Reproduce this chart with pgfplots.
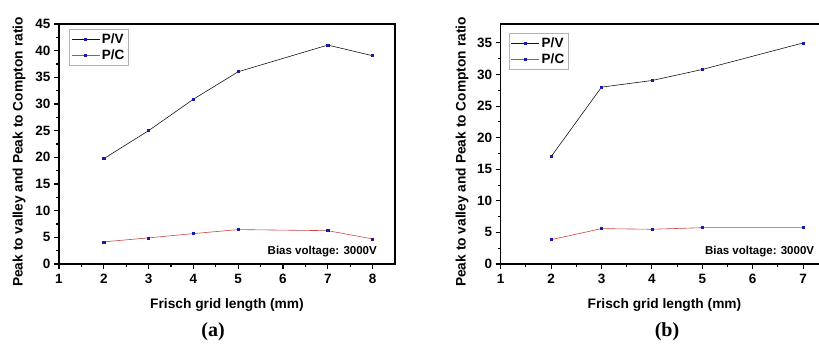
\documentclass[border=0pt]{standalone}
\usepackage{fontspec}
\setmainfont{Liberation Sans}
\newfontfamily\serifb{Liberation Serif}
\usepackage{pgfplots}
\pgfplotsset{compat=1.18}
\definecolor{pvline}{RGB}{20,20,20}
\definecolor{pcline}{RGB}{200,70,70}
\definecolor{mk}{RGB}{25,25,170}
\pgfplotsset{
  myax/.style={
    scale only axis,
    anchor=south west,
    axis line style={line width=1.3pt},
    tick align=outside,
    xtick pos=bottom, ytick pos=left,
    minor x tick num=1, minor y tick num=1,
    major tick length=5pt, minor tick length=3pt,
    every tick/.style={line width=1.1pt, black},
    /pgf/number format/assume math mode=true,
    tick label style={font=\bfseries\fontsize{13.5}{13.5}\selectfont},
    xticklabel style={yshift=-2pt},
    ylabel={Peak to valley and Peak to Compton ratio},
    xlabel={Frisch grid length (mm)},
    legend style={font=\bfseries\fontsize{13.5}{13.5}\selectfont, draw=gray!60, line width=0.5pt, anchor=north west, inner sep=2pt, row sep=1pt},
    legend cell align=left,
    legend image code/.code={\draw[mark repeat=2,mark phase=2] plot coordinates {(0pt,0pt) (14pt,0pt) (28pt,0pt)};},
    pv/.style={color=pvline, line width=0.6pt, mark=square*, mark size=1.05pt, mark options={mk, solid}},
    pc/.style={color=pcline, line width=0.6pt, mark=square*, mark size=1.05pt, mark options={mk, solid}},
  }
}
\begin{document}
\begin{tikzpicture}
\useasboundingbox (0,0) rectangle (819pt,345pt);
\clip (0,0) rectangle (819pt,345pt);
% (a)
\begin{axis}[myax, at={(59pt,81pt)}, width=336pt, height=240pt,
  xmin=1, xmax=8.5, ymin=0, ymax=45,
  xtick={1,2,3,4,5,6,7,8}, ytick={0,5,...,45},
  legend style={at={(axis description cs:0.03,0.979)}},
  every axis y label/.style={at={([xshift=-40pt,yshift=-8pt]axis description cs:0,0.5)}, rotate=90, anchor=center, font=\bfseries\fontsize{13.75}{14}\selectfont},
  every axis x label/.style={at={([yshift=-41pt]axis description cs:0.5,0)}, anchor=center, font=\bfseries\fontsize{13.75}{14}\selectfont}]
\addplot[pv] coordinates {(2,19.75) (3,25.0) (4,30.9) (5,36.05) (7,41.05) (8,39.05)};
\addlegendentry{P/V}
\addplot[pc] coordinates {(2,4.15) (3,4.9) (4,5.7) (5,6.45) (7,6.25) (8,4.7)};
\addlegendentry{P/C}
\node[anchor=south east, font=\bfseries\fontsize{11.5}{12}\selectfont, inner sep=0pt] at ([xshift=-18pt,yshift=7pt]axis description cs:1,0) {Bias voltage: 3000V};
\end{axis}
% (b)
\begin{axis}[myax, at={(500.7pt,81pt)}, width=327.6pt, height=240pt,
  xmin=1, xmax=7.5, ymin=0, ymax=38,
  xtick={1,2,3,4,5,6,7}, ytick={0,5,...,35},
  legend style={at={(axis description cs:0.025,0.9625)}},
  every axis y label/.style={at={([xshift=-38.7pt,yshift=-8pt]axis description cs:0,0.5)}, rotate=90, anchor=center, font=\bfseries\fontsize{13.75}{14}\selectfont},
  every axis x label/.style={at={([yshift=-41pt]axis description cs:0.5,0)}, anchor=center, font=\bfseries\fontsize{13.75}{14}\selectfont}]
\addplot[pv] coordinates {(2,17.0) (3,28.0) (4,29.05) (5,30.8) (7,35.0)};
\addlegendentry{P/V}
\addplot[pc] coordinates {(2,3.85) (3,5.6) (4,5.5) (5,5.75) (7,5.75)};
\addlegendentry{P/C}
\node[anchor=south east, font=\bfseries\fontsize{11.5}{12}\selectfont, inner sep=0pt] at ([xshift=-14pt,yshift=7pt]axis description cs:1,0) {Bias voltage: 3000V};
\end{axis}
\node[font=\serifb\bfseries\fontsize{20}{20}\selectfont] at (213pt,13pt) {(a)};
\node[font=\serifb\bfseries\fontsize{20}{20}\selectfont] at (667pt,13pt) {(b)};
\end{tikzpicture}
\end{document}
